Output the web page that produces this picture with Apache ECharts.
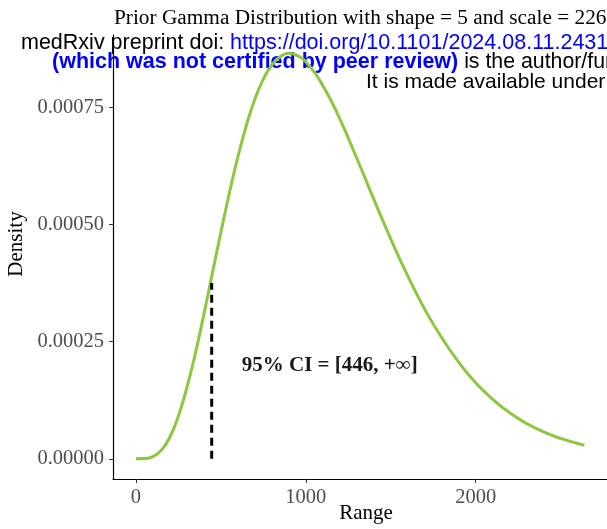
<!DOCTYPE html>
<html>
<head>
<meta charset="utf-8">
<script src="https://cdn.jsdelivr.net/npm/echarts@6/dist/echarts.min.js"></script>
<style>
  html, body { margin: 0; padding: 0; background: #fff; }
  #chart { width: 607px; height: 529px; }
</style>
</head>
<body>
<div id="chart"></div>
<script>
// values
const rangeX = [0, 50, 100, 150, 200, 250, 300, 350, 400, 450, 500, 550, 600, 650, 700, 750, 800, 850, 900, 950,
  1000, 1100, 1200, 1300, 1400, 1500, 1600, 1700, 1800, 1900, 2000, 2100, 2200, 2300, 2400, 2500, 2600, 2640]
const density = [0, 0.00000035, 0.0000045, 0.0000184, 0.0000467, 0.0000913, 0.000152, 0.000225, 0.000308, 0.000396,
  0.000483, 0.000567, 0.000644, 0.000711, 0.000767, 0.00081, 0.00084, 0.000858, 0.000865, 0.00086,
  0.000847, 0.000796, 0.000725, 0.000641, 0.000554, 0.000469, 0.00039, 0.000319, 0.000258, 0.000206,
  0.000162, 0.000127, 0.000098, 0.0000752, 0.0000572, 0.0000433, 0.0000326, 0.000029]
const xTicks = [0, 1000, 2000]
const yTicks = [0, 0.00025, 0.0005, 0.00075]
const ciLow = 446
const ciTop = 0.000375
const ciText = '95% CI = [446, +\u221e]'
const ciLabelAt = [1141, 0.000198]

const serif = 'Liberation Serif'
const sans = 'Liberation Sans'

let chart = echarts.init(document.getElementById('chart'))
let option = {
  animation: false,
  grid: { left: 113, top: 35, right: 0, bottom: 50, outerBoundsMode: 'none', containLabel: false },
  xAxis: {
    type: 'value',
    min: -135,
    max: 2773,
    name: 'Range',
    nameLocation: 'middle',
    nameGap: 24,
    nameMoveOverlap: false,
    nameTextStyle: { fontFamily: serif, fontSize: 21, color: '#000', padding: [0, 0, 0, 12] },
    axisLine: { show: true, onZero: false, lineStyle: { color: '#000', width: 1.2 } },
    axisTick: { show: true, length: 4, customValues: xTicks, lineStyle: { color: '#333' } },
    axisLabel: {
      customValues: xTicks, margin: 8, fontFamily: serif, fontSize: 20.5, color: '#4d4d4d',
      formatter: v => String(v)
    },
    splitLine: { show: false }
  },
  yAxis: {
    type: 'value',
    min: -0.0000432,
    max: 0.000904,
    name: 'Density',
    nameLocation: 'middle',
    nameGap: 86,
    nameMoveOverlap: false,
    nameTextStyle: { fontFamily: serif, fontSize: 21, color: '#000', padding: [0, 0, 0, 26] },
    axisLine: { show: true, onZero: false, lineStyle: { color: '#000', width: 1.2 } },
    axisTick: { show: true, length: 4, customValues: yTicks, lineStyle: { color: '#333' } },
    axisLabel: {
      customValues: yTicks,
      margin: 9,
      fontFamily: serif,
      fontSize: 20.5,
      color: '#4d4d4d',
      formatter: v => v.toFixed(5)
    },
    splitLine: { show: false }
  },
  series: [
    {
      type: 'line',
      data: rangeX.map((x, i) => [x, density[i]]),
      smooth: true,
      showSymbol: false,
      lineStyle: { color: '#8dc63f', width: 3 }
    },
    {
      // lower bound of the CI
      type: 'line',
      data: [[ciLow, 0], [ciLow, ciTop]],
      showSymbol: false,
      lineStyle: { color: '#000', width: 3, type: [8, 5] }
    },
    {
      type: 'scatter',
      data: [ciLabelAt],
      symbolSize: 1,
      itemStyle: { color: 'rgba(0,0,0,0)', opacity: 1 },
      label: {
        show: true,
        position: 'inside',
        formatter: ciText,
        fontFamily: serif,
        fontWeight: 'bold',
        fontSize: 21,
        color: '#1a1a1a'
      }
    }
  ],
  graphic: [
    {
      type: 'text', left: 114, top: 7.5,
      style: { text: 'Prior Gamma Distribution with shape = 5 and scale = 226', font: '21.3px "Liberation Serif"', fill: '#000' }
    },
    {
      type: 'text', left: 21, top: 32,
      style: {
        text: '{k|medRxiv preprint doi: }{b|https://doi.org/10.1101/2024.08.11.2431}',
        rich: {
          k: { fontFamily: sans, fontSize: 21.5, fill: '#000' },
          b: { fontFamily: sans, fontSize: 21.5, fill: '#0000ff' }
        }
      }
    },
    {
      type: 'text', left: 52, top: 51.5,
      style: {
        text: '{b|(which was not certified by peer review)}{k| is the author/fun}',
        rich: {
          k: { fontFamily: sans, fontSize: 21.3, fill: '#000' },
          b: { fontFamily: sans, fontSize: 21.5, fontWeight: 'bold', fill: '#0000ff' }
        }
      }
    },
    {
      type: 'text', left: 366, top: 72,
      style: { text: 'It is made available under', font: '21px "Liberation Sans"', fill: '#000' }
    }
  ]
}
chart.setOption(option)
</script>
</body>
</html>
